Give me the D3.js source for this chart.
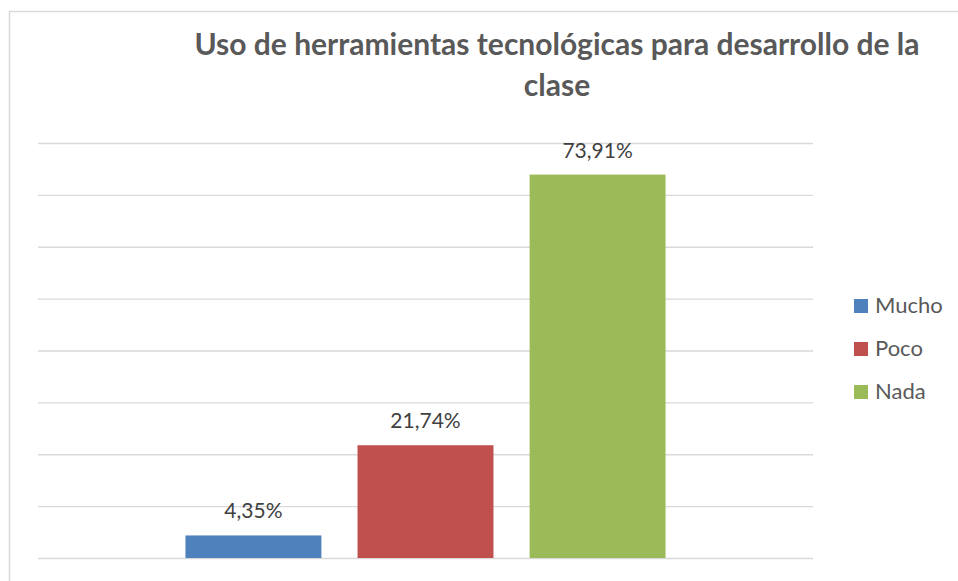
<!DOCTYPE html>
<html>
<head>
<meta charset="utf-8">
<script src="https://d3js.org/d3.v7.min.js"></script>
<style>
  body { margin: 0; background: #fff; }
  text { font-family: Lato, "Open Sans", sans-serif; }
</style>
</head>
<body>
<svg width="958" height="581"></svg>
<script>
// Data
var categories = ["Mucho", "Poco", "Nada"];
var values = [4.35, 21.74, 73.91];
var yTicks = [0, 10, 20, 30, 40, 50, 60, 70, 80];
var titleLines = ["Uso de herramientas tecnológicas para desarrollo de la", "clase"];

var colors = ["#4F81BD", "#C0504D", "#9BBB59"];

var svg = d3.select("svg"),
  width = +svg.attr("width"),
  height = +svg.attr("height");

var plot = { left: 38, right: 813, top: 143, bottom: 558 };

// frame of the chart area
svg.append("rect")
  .attr("x", 9.5).attr("y", 11.5)
  .attr("width", width + 10).attr("height", height + 10)
  .attr("fill", "none")
  .attr("stroke", "#d9d9d9")
  .attr("stroke-width", 1.5);

// scales
var y = d3.scaleLinear()
  .domain([0, 80])
  .range([plot.bottom, plot.top]);

var x = d3.scaleBand()
  .domain(categories)
  .range([plot.left, plot.right])
  .paddingInner(0.21)
  .paddingOuter(0.857);

var color = d3.scaleOrdinal().domain(categories).range(colors);

// gridlines
var grid = svg.append("g")
  .attr("transform", "translate(" + plot.left + ",0)")
  .call(d3.axisLeft(y)
    .tickValues(yTicks)
    .tickSize(-(plot.right - plot.left))
    .tickFormat(""));
grid.select(".domain").remove();
grid.selectAll(".tick line")
  .attr("stroke", "#d9d9d9")
  .attr("stroke-width", 1.3);

// bars
svg.append("g")
  .selectAll("rect")
  .data(values)
  .enter()
  .append("rect")
    .attr("x", function (d, i) { return x(categories[i]); })
    .attr("y", function (d) { return y(d); })
    .attr("width", x.bandwidth())
    .attr("height", function (d) { return y(0) - y(d); })
    .attr("fill", function (d, i) { return color(categories[i]); });

// data labels (comma decimal)
var es = d3.formatLocale({ decimal: ",", thousands: ".", grouping: [3], currency: ["", "€"] });
var fmt = es.format(".2f");

svg.append("g")
  .selectAll("text")
  .data(values)
  .enter()
  .append("text")
    .attr("x", function (d, i) { return x(categories[i]) + x.bandwidth() / 2; })
    .attr("y", function (d) { return y(d) - 17; })
    .attr("text-anchor", "middle")
    .attr("font-size", 21)
    .attr("fill", "#404040")
    .text(function (d) { return fmt(d) + "%"; });

// title
svg.append("text")
  .attr("x", 557)
  .attr("y", 55)
  .attr("text-anchor", "middle")
  .attr("font-size", 30)
  .attr("font-weight", "bold")
  .attr("fill", "#595959")
  .selectAll("tspan")
  .data(titleLines)
  .enter()
  .append("tspan")
    .attr("x", 557)
    .attr("dy", function (d, i) { return i ? 41 : 0; })
    .text(function (d) { return d; });

// legend
var legend = svg.append("g")
  .selectAll("g")
  .data(categories)
  .enter()
  .append("g")
    .attr("transform", function (d, i) { return "translate(854," + (299 + i * 43) + ")"; });

legend.append("rect")
  .attr("width", 14)
  .attr("height", 14)
  .attr("fill", function (d) { return color(d); });

legend.append("text")
  .attr("x", 21)
  .attr("y", 14)
  .attr("font-size", 22)
  .attr("fill", "#595959")
  .text(function (d) { return d; });
</script>
</body>
</html>
